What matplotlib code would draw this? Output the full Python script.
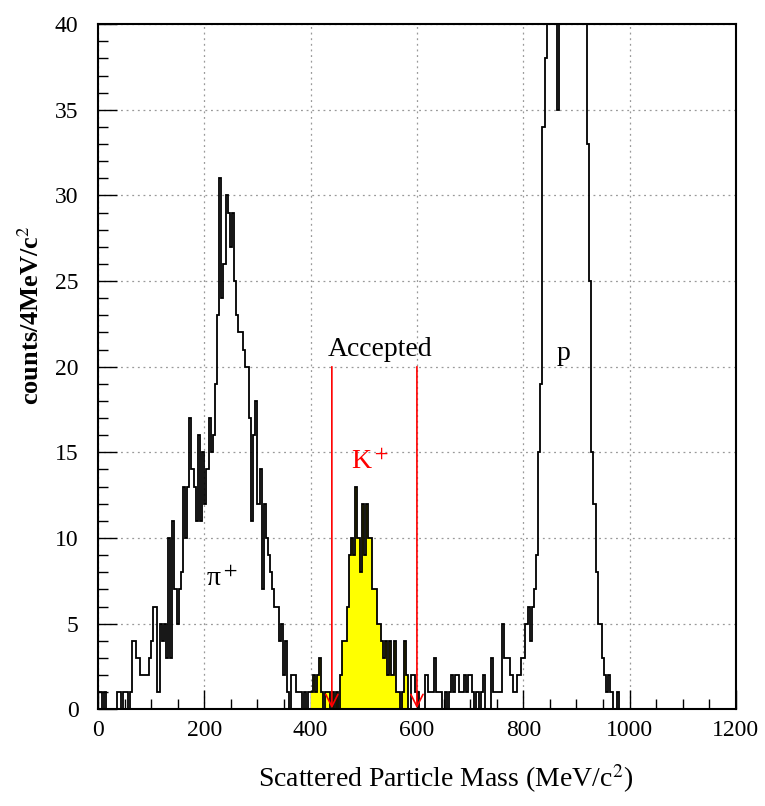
import numpy as np
import matplotlib
matplotlib.use("Agg")
from matplotlib import pyplot as plt
from matplotlib.ticker import MultipleLocator

plt.rcParams['font.family'] = ['Liberation Serif', 'DejaVu Serif']
plt.rcParams['mathtext.fontset'] = 'stix'

# 4 MeV/c^2 bins from 0 to 1200
bin_width = 4
# counts per bin (values above 40 are off scale)
counts_0_100 = [
    1, 1, 0, 1, 0, 0, 0, 0, 0, 1,
    1, 0, 1, 1, 0, 1, 4, 4, 3, 3,
    2, 2, 2, 2, 3, 4, 6, 6, 1, 5,
    4, 5, 3, 10, 3, 11, 7, 5, 7, 8,
    13, 10, 13, 17, 14, 13, 11, 16, 11, 15,
    12, 14, 17, 15, 16, 19, 23, 31, 24, 26,
    30, 29, 27, 29, 25, 23, 22, 22, 21, 20,
    20, 17, 11, 16, 18, 12, 14, 7, 12, 10,
    9, 8, 7, 6, 6, 4, 5, 2, 4, 1,
    0, 2, 2, 1, 1, 1, 0, 1, 0, 1,
]
counts_100_200 = [
    1, 2, 1, 2, 3, 1, 0, 1, 1, 0,
    1, 0, 1, 0, 2, 4, 4, 6, 9, 10,
    9, 13, 10, 8, 12, 9, 12, 10, 10, 7,
    7, 5, 5, 4, 3, 4, 2, 4, 2, 4,
    1, 1, 0, 1, 4, 2, 0, 2, 2, 1,
    1, 0, 0, 0, 2, 1, 1, 1, 3, 1,
    1, 1, 0, 1, 0, 1, 2, 1, 2, 2,
    1, 1, 2, 1, 2, 2, 1, 0, 1, 0,
    1, 2, 0, 0, 0, 3, 1, 1, 1, 1,
    5, 3, 3, 3, 2, 1, 1, 2, 2, 3,
]
counts_200_300 = [
    3, 5, 6, 4, 6, 7, 9, 15, 19, 34,
    38, 48, 55, 62, 70, 72, 35, 78, 85, 80,
    88, 76, 70, 74, 66, 60, 58, 52, 47, 44,
    33, 25, 15, 12, 8, 5, 5, 3, 2, 1,
    2, 1, 0, 0, 1, 0, 0, 0, 0, 0,
    0, 0, 0, 0, 0, 0, 0, 0, 0, 0,
    0, 0, 0, 0, 0, 0, 0, 0, 0, 0,
    0, 0, 0, 0, 0, 0, 0, 0, 0, 0,
    0, 0, 0, 0, 0, 0, 0, 0, 0, 0,
    0, 0, 0, 0, 0, 0, 0, 0, 0, 0,
]
counts = np.array(counts_0_100 + counts_100_200 + counts_200_300)
edges = np.arange(0, 1200 + bin_width, bin_width)

# kaon candidates shaded in yellow
kaon_lo, kaon_hi = 400, 584
cut_lo, cut_hi = 440, 600

fig = plt.figure(figsize=(7.65, 8.06), dpi=100)
ax = fig.add_axes([0.128, 0.120, 0.834, 0.850])

sel = (edges[:-1] >= kaon_lo) & (edges[:-1] < kaon_hi)
i0, i1 = np.where(sel)[0][[0, -1]]
ax.stairs(counts[i0:i1 + 1], edges[i0:i1 + 2], fill=True, color='#ffff00', zorder=2)
ax.stairs(counts, edges, color='black', lw=1.3, zorder=3)

for xc in (cut_lo, cut_hi):
    ax.annotate('', xy=(xc, 0.05), xytext=(xc, 20),
                arrowprops=dict(arrowstyle='->', color='red', lw=1.2,
                                mutation_scale=22, shrinkA=0, shrinkB=0),
                zorder=4)

ax.text(531, 20.3, 'Accepted', ha='center', va='bottom', fontsize=20)
ax.text(512, 14.4, r'K$^+$', ha='center', va='center', fontsize=20, color='red')
ax.text(233, 7.6, r'π$^+$', ha='center', va='center', fontsize=20)
ax.text(876, 20.8, 'p', ha='center', va='center', fontsize=20)

ax.set_xlim(0, 1200)
ax.set_ylim(0, 40)
ax.xaxis.set_major_locator(MultipleLocator(200))
ax.xaxis.set_minor_locator(MultipleLocator(50))
ax.yaxis.set_major_locator(MultipleLocator(5))
ax.yaxis.set_minor_locator(MultipleLocator(1))
ax.tick_params(which='both', direction='in', labelsize=17)
ax.tick_params(which='major', length=14, width=1)
ax.tick_params(which='minor', length=7, width=1)
ax.tick_params(axis='x', pad=8)
ax.tick_params(axis='y', pad=14)
ax.grid(True, which='major', linestyle=(0, (1.5, 3)), color='#999999', lw=0.9)
for sp in ax.spines.values():
    sp.set_linewidth(1.5)

ax.set_xlabel(r'Scattered Particle Mass (MeV/c$^2$)', fontsize=20)
ax.xaxis.set_label_coords(0.545, -0.078)
ax.set_ylabel(r'counts/4MeV/c$^2$', fontsize=19, fontweight='bold')
ax.yaxis.set_label_coords(-0.085, 0.575)

fig.savefig('out.png', dpi=100)
